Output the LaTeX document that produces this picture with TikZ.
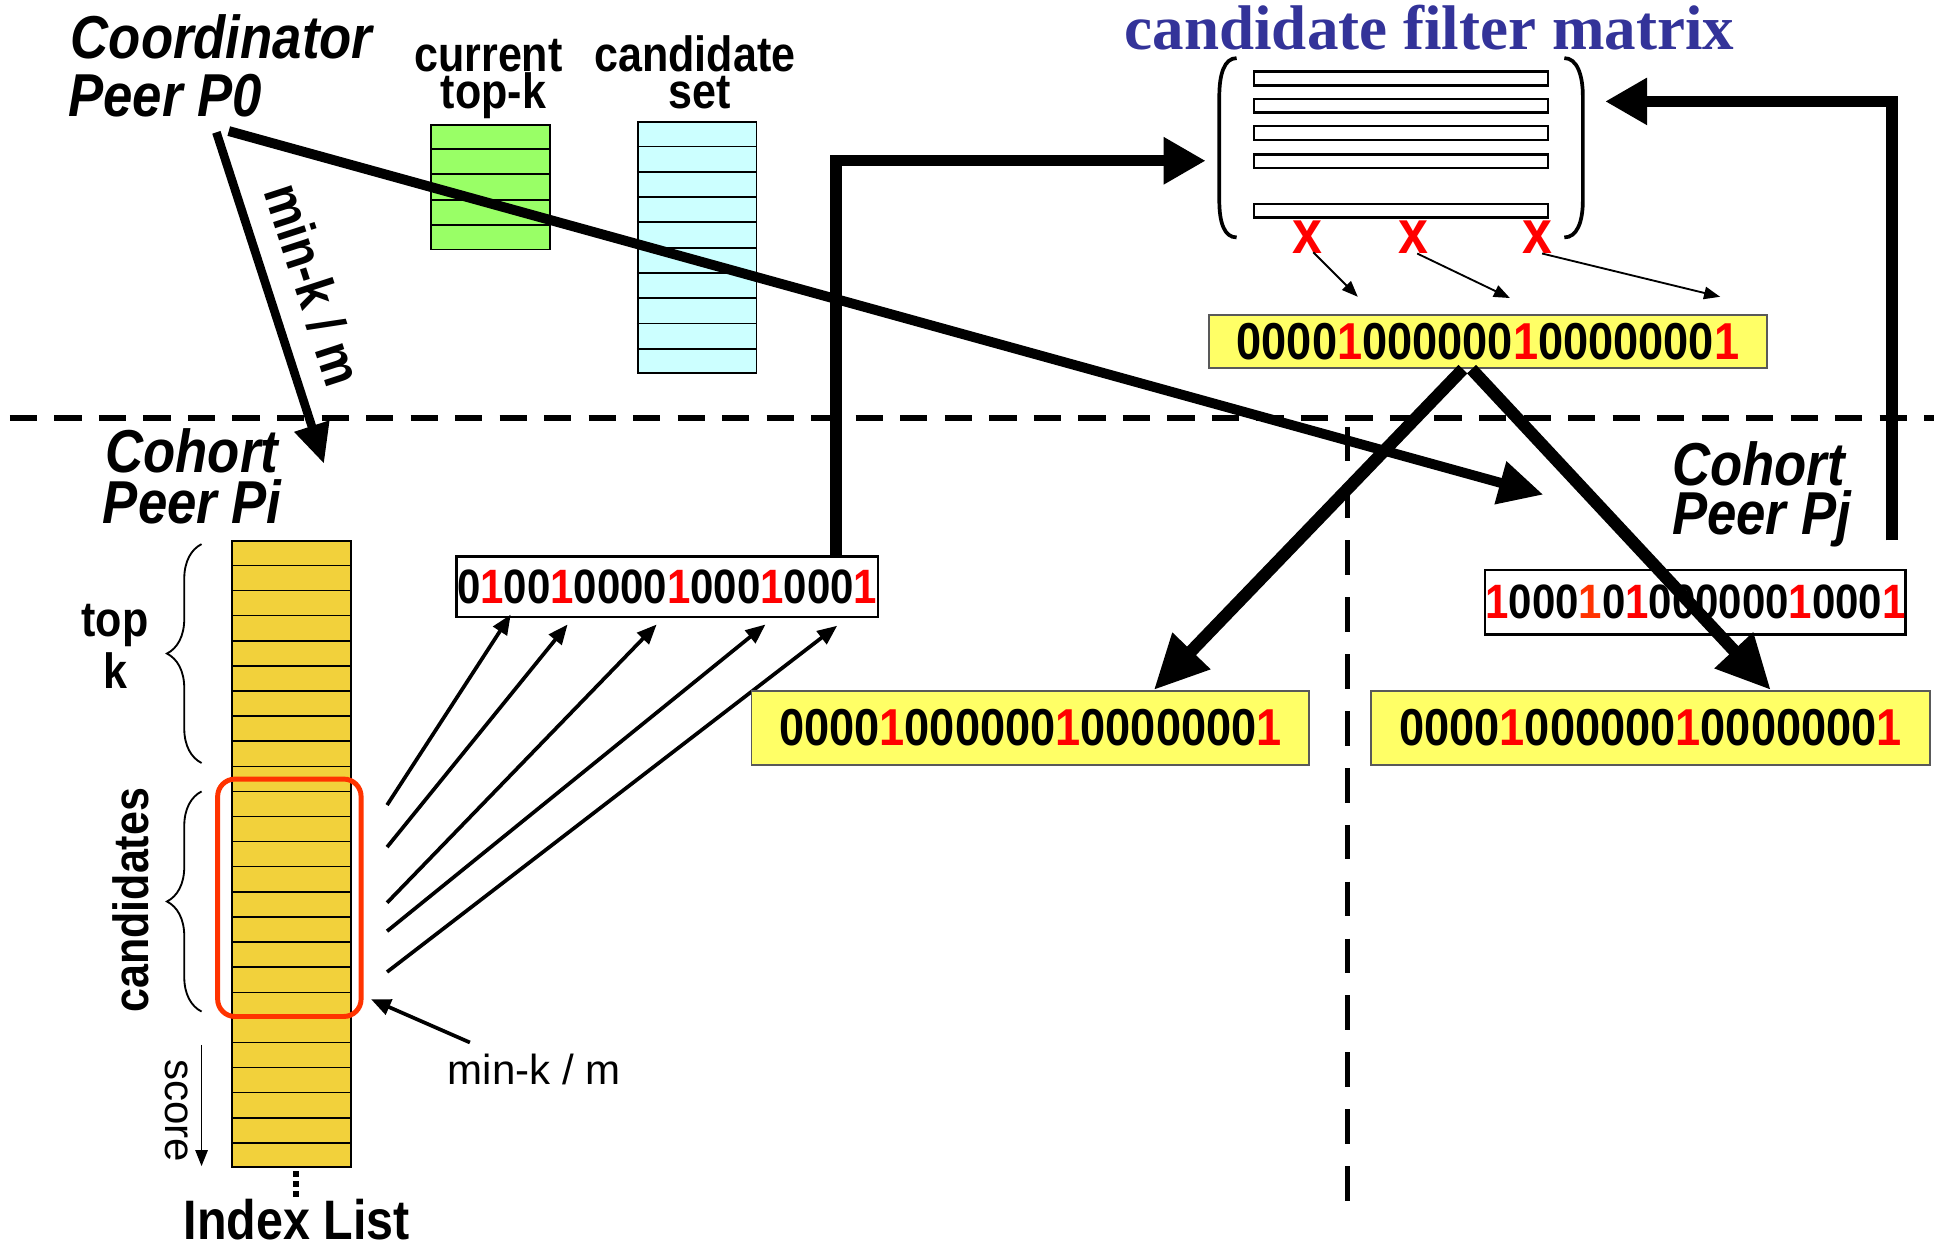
\documentclass[tikz,border=0pt]{standalone}
\usepackage{fontspec}
\setmainfont{Liberation Sans}
\newfontfamily\nb[FakeStretch=0.87]{Liberation Sans}
\newfontfamily\serf{Liberation Serif}
\usetikzlibrary{arrows.meta,decorations.pathreplacing,calc}
\definecolor{tkgreen}{HTML}{99FF66}
\definecolor{tkcyan}{HTML}{CCFFFF}
\definecolor{gold}{HTML}{F2D13B}
\definecolor{ylw}{HTML}{FFFF66}
\definecolor{fblue}{HTML}{333399}
\definecolor{ored}{HTML}{FF3300}
\newcommand{\rd}[1]{\textcolor{red}{#1}}
\newcommand{\og}[1]{\textcolor{ored}{#1}}
\begin{document}
\begin{tikzpicture}[x=1pt,y=-1pt,
  cond/.style={inner sep=0pt, anchor=base, font=\fontsize{40}{44}\nb\bfseries},
  peer/.style={inner sep=0pt, anchor=base west, font=\fontsize{49}{54}\nb\bfseries\itshape},
  bitsbig/.style={font=\fontsize{42}{46}\nb\bfseries},
  bitssm/.style={font=\fontsize{39}{44}\nb\bfseries},
  ybox/.style={draw=black!65, line width=1.5pt, fill=ylw, inner sep=0pt, anchor=north west, bitsbig},
  wbox/.style={draw=black, line width=2pt, fill=white, inner sep=0pt, anchor=north west, bitssm},
  colbox/.style={draw=black, line width=1.5pt, inner sep=0pt, anchor=north west},
  fatarrow/.style={line width=9pt, -{Triangle[length=34pt,width=36pt]}},
  hugearrow/.style={line width=10pt, -{Triangle[length=44pt,width=40pt]}},
  midarrow/.style={line width=3pt, -{Triangle[length=16pt,width=13pt]}},
  thinarrow/.style={line width=1.5pt, -{Triangle[length=13pt,width=10pt]}},
  bar/.style={draw=black, line width=2pt, fill=white, inner sep=0pt, anchor=north west, minimum width=238pt, minimum height=11pt},
  redx/.style={inner sep=0pt, text=red, font=\fontsize{50}{54}\nb\bfseries},
  bracestyle/.style={decorate, decoration={brace, amplitude=28pt}, line width=1.5pt}
]
\useasboundingbox (0,0) rectangle (1568,1009);

% ---------- coordinator side ----------
\node[peer] (coord) at (57,47) {Coordinator};
\node[peer] (p0) at (55,94) {Peer P0};

\node[cond] (curlbl) at (395,58) {current};
\node[cond] (toplbl) at (399,88) {top-k};
\node[cond] (candlbl) at (562,58) {candidate};
\node[cond] (setlbl) at (566,88) {set};

\node[colbox, fill=tkgreen, minimum width=96pt, minimum height=101pt] (topk) at (348,100) {};
\foreach \i in {1,...,4}
  \draw[line width=1.5pt] ($(topk.north west)!\i/5!(topk.south west)$) -- ($(topk.north east)!\i/5!(topk.south east)$);
\node[colbox, fill=tkcyan, minimum width=96pt, minimum height=203pt] (cset) at (515,98) {};
\foreach \i in {1,...,9}
  \draw[line width=1.5pt] ($(cset.north west)!\i/10!(cset.south west)$) -- ($(cset.north east)!\i/10!(cset.south east)$);

% ---------- candidate filter matrix ----------
\node[inner sep=0pt, anchor=base, text=fblue, font=\fontsize{51}{56}\serf\bfseries] (cfmtitle) at (1156,40) {candidate filter matrix};
\draw[line width=3pt] (1000,47) .. controls (990,47) and (986,60) .. (986,78) -- (986,162) .. controls (986,180) and (990,192) .. (1000,192);
\draw[line width=3pt] (1265,47) .. controls (1275,47) and (1280,60) .. (1280,78) -- (1280,162) .. controls (1280,180) and (1275,192) .. (1265,192);
\node[bar] (bar1) at (1013,57) {};
\node[bar] (bar2) at (1013,79) {};
\node[bar] (bar3) at (1013,101) {};
\node[bar] (bar4) at (1013,124) {};
\node[bar] (bar5) at (1013,164) {};
\node[redx] (x1) at (1057,192) {x};
\node[redx] (x2) at (1143,192) {x};
\node[redx] (x3) at (1243,192) {x};
\coordinate (t1) at (1098,240);
\coordinate (t2) at (1221,241);
\coordinate (t3) at (1391,240);
\draw[thinarrow] (1062,204) -- (t1);
\draw[thinarrow] (1146,205) -- (t2);
\draw[thinarrow] (1247,205) -- (t3);

\node[ybox, minimum width=451pt, minimum height=43pt] (cfm) at (977,254) {0000\rd{1}000000\rd{1}0000000\rd{1}};

% ---------- separators ----------
\draw[line width=5pt, dash pattern=on 22pt off 14pt] (8,338) -- (1564,338);
\draw[line width=4pt, dash pattern=on 28pt off 18pt] (1090,345) -- (1090,985);

% ---------- cohort peer Pi ----------
\node[peer] (cpi1) at (85,382) {Cohort};
\node[peer] (cpi2) at (83,423) {Peer Pi};

\node[colbox, fill=gold, minimum width=96pt, minimum height=506pt] (ilist) at (187,437) {};
\foreach \i in {1,...,24}
  \draw[line width=1.2pt] ($(ilist.north west)!\i/25!(ilist.south west)$) -- ($(ilist.north east)!\i/25!(ilist.south east)$);
\node[draw=ored, line width=4pt, rounded corners=14pt, minimum width=116pt, minimum height=192pt, inner sep=0pt, anchor=north west] (cand) at (174,628) {};

\draw[bracestyle] (163,617) -- (163,440);
\node[cond] (toptxt) at (93,515) {top};
\node[cond] (ktxt) at (93,557) {k};
\draw[bracestyle] (163,818) -- (163,640);
\node[inner sep=0pt, rotate=90, font=\fontsize{40}{44}\nb\bfseries] (candtxt) at (106,728) {candidates};

\coordinate (sc1) at (163,845);
\coordinate (sc2) at (163,943);
\draw[thinarrow] (sc1) -- (sc2);
\node[inner sep=0pt, rotate=-90, font=\fontsize{34}{40}\selectfont] (score) at (143,898) {score};

\fill (237,947) rectangle (242,952);
\fill (237,955) rectangle (242,960);
\fill (237,963) rectangle (242,968);
\node[inner sep=0pt, anchor=base, font=\fontsize{45}{50}\nb\bfseries] (ilabel) at (240,1002) {Index List};

\node[inner sep=0pt, anchor=base west, font=\fontsize{34}{40}\selectfont] (minkm) at (362,877) {min-k / m};
\coordinate (mk1) at (380,843);
\coordinate (mk2) at (300,808);
\draw[midarrow] (mk1) -- (mk2);

\node[wbox, minimum width=341pt, minimum height=49pt] (pibits) at (368,449) {0\rd{1}00\rd{1}0000\rd{1}000\rd{1}000\rd{1}};

\coordinate (s1) at (313,651);
\coordinate (s2) at (313,685);
\coordinate (s3) at (313,730);
\coordinate (s4) at (313,753);
\coordinate (s5) at (313,786);
\draw[midarrow] (s1) -- (413,497);
\draw[midarrow] (s2) -- (459,505);
\draw[midarrow] (s3) -- (531,505);
\draw[midarrow] (s4) -- (619,505);
\draw[midarrow] (s5) -- (677,506);

\node[ybox, minimum width=451pt, minimum height=60pt] (midbox) at (607,558) {0000\rd{1}000000\rd{1}0000000\rd{1}};

% ---------- cohort peer Pj ----------
\node[peer] (cpj1) at (1352,393) {Cohort};
\node[peer] (cpj2) at (1352,432) {Peer Pj};
\node[wbox, minimum width=340pt, minimum height=52pt] (pjbits) at (1200,460) {\rd{1}000\og{1}0\rd{1}000000\rd{1}000\rd{1}};
\node[ybox, minimum width=452pt, minimum height=60pt] (rightbox) at (1108,558) {0000\rd{1}000000\rd{1}0000000\rd{1}};

% ---------- thick connectors ----------
\coordinate (p0a) at (175,107);
\coordinate (p0b) at (185,106);
\coordinate (pitip) at (262,375);
\coordinate (pjtip) at (1248,400);
\draw[line width=7pt, -{Triangle[length=32pt,width=28pt]}] (p0a) -- (pitip);
\node[inner sep=0pt, rotate=-72, font=\fontsize{44}{48}\nb\bfseries] (minkmtxt) at (254,230) {min-k / m};
\draw[line width=8pt, -{Triangle[length=36pt,width=34pt]}] (p0b) -- (pjtip);

\coordinate (matin) at (975,130);
\draw[fatarrow] (pibits.north -| 676,0) |- (matin);
\coordinate (pjout) at (1530,437);
\coordinate (matright) at (1298,82);
\draw[fatarrow] (pjout) |- (matright);

\draw[hugearrow] (cfm.south -| 1183,0) -- (midbox.north -| 933,0);
\draw[hugearrow] (cfm.south -| 1190,0) -- (rightbox.north -| 1432,0);
\end{tikzpicture}
\end{document}
